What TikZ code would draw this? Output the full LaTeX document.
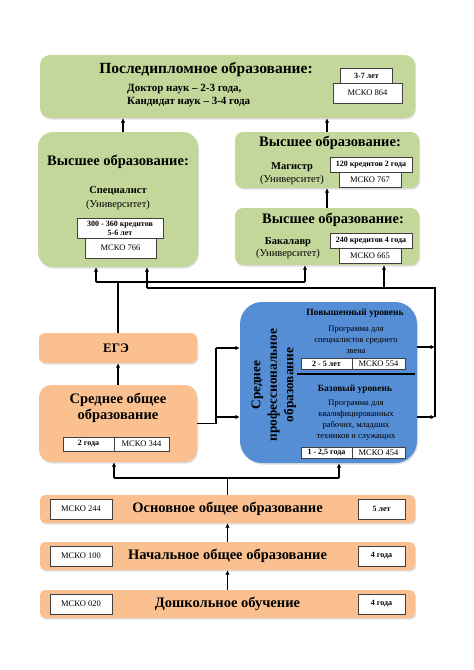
\documentclass[tikz,border=0pt]{standalone}
\usepackage{fontspec}
\setmainfont{Liberation Serif}
\usetikzlibrary{arrows.meta,shadows,positioning}
\definecolor{grn}{HTML}{C4D79B}
\definecolor{orn}{HTML}{FAC090}
\definecolor{blu}{HTML}{558ED5}
\newcommand\fsz[2]{\fontsize{#1}{#2}\selectfont}
\tikzset{
  line/.style={line width=1.5pt},
  arr/.style={line width=1.5pt,-{Latex[length=4.5pt,width=4.5pt]}},
  shade/.style={drop shadow={opacity=0.25,shadow xshift=1pt,shadow yshift=-1.5pt}},
  grbox/.style={fill=grn,shade,inner sep=0pt},
  orbox/.style={fill=orn,shade,inner sep=0pt},
  tag/.style={draw=black!75,fill=white,line width=0.5pt,inner sep=0pt,font=\fsz{8.5}{10}},
  btag/.style={tag,font=\bfseries\fsz{8}{9}},
  title/.style={inner sep=0pt,font=\bfseries\fsz{14.5}{16}},
  degree/.style={inner sep=0pt,font=\bfseries\fsz{10.5}{12}},
  uninote/.style={inner sep=0pt,font=\fsz{10.5}{12}},
}
\begin{document}
\begin{tikzpicture}[x=1pt,y=-1pt]
\useasboundingbox (0,0) rectangle (474,670);
%boxes
\node[grbox,rounded corners=10pt,minimum width=375,minimum height=63] (post) at (227.5,86.5) {};
\node[grbox,rounded corners=15pt,minimum width=160,minimum height=135] (spec) at (118,199.5) {};
\node[grbox,rounded corners=8pt,minimum width=184,minimum height=56] (mag) at (327,160) {};
\node[grbox,rounded corners=8pt,minimum width=184,minimum height=57] (bach) at (327,236.5) {};
\node[orbox,rounded corners=6pt,minimum width=158,minimum height=30] (ege) at (118,348) {};
\node[orbox,rounded corners=12pt,minimum width=158,minimum height=77] (sred) at (118,423.5) {};
\node[fill=blu,shade,inner sep=0pt,rounded corners=22pt,minimum width=177,minimum height=161] (spo) at (328.5,382.5) {};
%post
\node[title,font=\bfseries\fsz{15.5}{17}] (posttitle) at (206,70) {Последипломное образование:};
\node[anchor=west,align=left,inner sep=0pt,font=\bfseries\fsz{11}{13}] (posttext) at (127,95.5) {Доктор наук – 2-3 года,\\Кандидат наук – 3-4 года};
\node[btag,minimum width=52,minimum height=15] (postyr) at (366.5,75.5) {3-7 лет};
\node[tag,minimum width=69,minimum height=20] (postcode) at (367.5,93) {МСКО 864};
%spec
\node[title] (spectitle) at (118,162) {Высшее образование:};
\node[degree] (specname) at (118,191) {Специалист};
\node[uninote] (specuni) at (118,205) {(Университет)};
\node[btag,align=center,minimum width=86,minimum height=20] (speccr) at (120,228) {300 - 360 кредитов\\5-6 лет};
\node[tag,minimum width=71,minimum height=20] (speccode) at (120.5,248) {МСКО 766};
%mag
\node[title] (magtitle) at (330,143) {Высшее образование:};
\node[degree] (magname) at (292,167) {Магистр};
\node[uninote] (maguni) at (292,180) {(Университет)};
\node[btag,minimum width=82,minimum height=15] (magcr) at (371,164.5) {120 кредитов 2 года};
\node[tag,minimum width=62,minimum height=15] (magcode) at (370,179.5) {МСКО 767};
%bach
\node[title] (bachtitle) at (333,220) {Высшее образование:};
\node[degree] (bachname) at (288,242) {Бакалавр};
\node[uninote] (bachuni) at (288,254) {(Университет)};
\node[btag,minimum width=82,minimum height=15] (bachcr) at (371,240.5) {240 кредитов 4 года};
\node[tag,minimum width=62,minimum height=15] (bachcode) at (370,255.5) {МСКО 665};
%ege, sred
\node[title,font=\bfseries\fsz{13}{15}] (egetitle) at (116,348) {ЕГЭ};
\node[title,align=center,font=\bfseries\fsz{14.5}{16.5}] (sredtitle) at (118,408) {Среднее общее\\образование};
\node[btag,minimum width=51,minimum height=14] (sredyr) at (88.5,444) {2 года};
\node[tag,minimum width=55,minimum height=14] (sredcode) at (141.5,444) {МСКО 344};
%spo
\node[rotate=90,align=center,inner sep=0pt,font=\bfseries\fsz{13.3}{16.5}] (spotitle) at (274,385) {Среднее\\профессиональное\\образование};
\node[inner sep=0pt,font=\bfseries\fsz{9.5}{11}] (spohigh) at (355,313) {Повышенный уровень};
\node[align=center,inner sep=0pt,font=\fsz{8.5}{11}] (spohightext) at (356,340) {Программа для\\специалистов среднего\\звена};
\node[btag,minimum width=51,minimum height=11] (spohighyr) at (326.5,363.5) {2 - 5 лет};
\node[tag,minimum width=53,minimum height=11] (spohighcode) at (378.5,363.5) {МСКО 554};
\draw[line width=2pt] (297,374)--(415,374);
\node[inner sep=0pt,font=\bfseries\fsz{9.5}{11}] (spobase) at (355,389) {Базовый уровень};
\node[align=center,inner sep=0pt,font=\fsz{8.5}{11}] (spobasetext) at (356,420) {Программа для\\квалифицированных\\рабочих, младших\\техников и служащих};
\node[btag,minimum width=51,minimum height=11] (spobaseyr) at (326.5,452.5) {1 - 2,5 года};
\node[tag,minimum width=53,minimum height=11] (spobasecode) at (378.5,452.5) {МСКО 454};
%school
\foreach \n/\y/\t/\m/\d in {osn/509/Основное общее образование/244/5 лет,nach/556/Начальное общее образование/100/4 года,dosh/604/Дошкольное обучение/020/4 года}{
  \node[orbox,rounded corners=5pt,minimum width=375,minimum height=28] (\n) at (227.5,\y) {};
  \node[title] (\n title) at (227.5,\y) {\t};
  \node[tag,minimum width=62,minimum height=20] (\n code) at (81,\y) {МСКО \m};
  \node[btag,minimum width=47,minimum height=20] (\n yr) at (381.5,\y) {\d};
}
%arrows
\draw[arr] (dosh.north)--(nach.south);
\draw[arr] (nach.north)--(osn.south);
\coordinate (o1) at (114,478);
\coordinate (o2) at (339,478);
\draw[line] (osn.north)--(osn.north|-o1);
\draw[line] (o1)--(o2);
\draw[arr] (o1)--(o1|-sred.south);
\draw[arr] (o2)--(o2|-spo.south);
\draw[arr] (sred.north)--(ege.south);
\coordinate (m1) at (216,348);
\coordinate (m2) at (216,417);
\draw[line] (sred.east)-|(m1);
\draw[arr] (m1)--(m1-|spo.west);
\draw[arr] (m2)--(m2-|spo.west);
\coordinate (e1) at (96,282);
\coordinate (e2) at (305,282);
\draw[line] (ege.north)--(ege.north|-e1);
\draw[line] (e1)--(e2);
\draw[arr] (e1)--(e1|-spec.south);
\draw[arr] (e2)--(e2|-bach.south);
\coordinate (s1) at (147,288);
\coordinate (s2) at (384,288);
\coordinate (s3) at (435,288);
\coordinate (k1) at (435,347);
\coordinate (k2) at (435,417);
\draw[arr] (k1-|spo.east)--(k1);
\draw[arr] (k2-|spo.east)--(k2);
\draw[line] (k2)--(s3)--(s1);
\draw[arr] (s1)--(s1|-spec.south);
\draw[arr] (s2)--(s2|-bach.south);
\coordinate (p1) at (123,118);
\draw[arr] (bach.north)--(mag.south);
\draw[arr] (mag.north)--(mag.north|-post.south);
\draw[arr] (p1|-spec.north)--(p1);
\end{tikzpicture}
\end{document}
